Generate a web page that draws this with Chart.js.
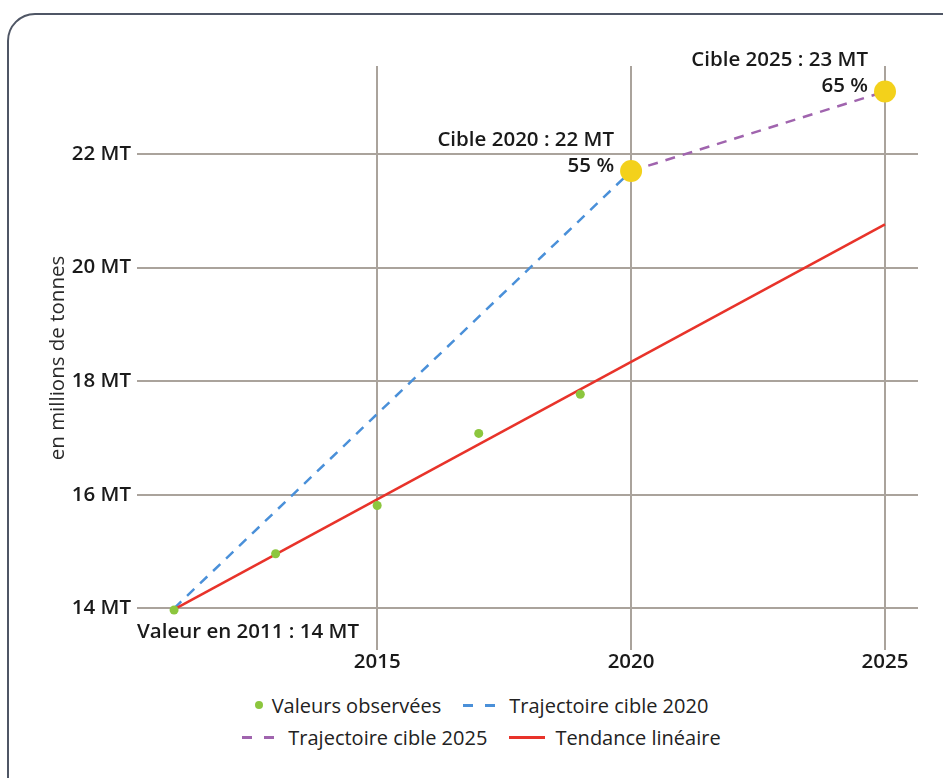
<!DOCTYPE html>
<html lang="fr">
<head>
<meta charset="utf-8">
<title>Trajectoire</title>
<script src="https://cdn.jsdelivr.net/npm/chart.js@4/dist/chart.umd.min.js"></script>
<style>
  html, body { margin: 0; padding: 0; background: #fff; }
  body { width: 943px; height: 778px; position: relative; overflow: hidden; font-family: "Open Sans", sans-serif; }
  .frame { position: absolute; left: 7px; top: 13px; width: 980px; height: 800px; border: 2.5px solid #4f5665; border-radius: 28px; box-sizing: border-box; }
  #chart { position: absolute; left: 0; top: 0; }
  .legend { position: absolute; left: 20px; top: 689px; width: 923px; font-size: 20px; color: #222; }
  .row { display: flex; justify-content: center; align-items: center; height: 32px; }
  .item { display: flex; align-items: center; margin: 0 11px; }
  .dot { width: 8px; height: 8px; border-radius: 50%; margin-right: 9px; }
  .dash { display: flex; width: 32px; justify-content: space-between; margin-right: 14px; }
  .dash span { width: 10px; height: 3px; }
  .solid { width: 36px; height: 3px; margin-right: 10px; }
</style>
</head>
<body>
<div class="frame"></div>
<canvas id="chart" width="943" height="680"></canvas>
<div class="legend">
  <div class="row">
    <div class="item"><span class="dot" style="background:#8cc63e"></span>Valeurs observées</div>
    <div class="item"><span class="dash"><span style="background:#4a90d9"></span><span style="background:#4a90d9"></span></span>Trajectoire cible 2020</div>
  </div>
  <div class="row">
    <div class="item"><span class="dash"><span style="background:#a064ae"></span><span style="background:#a064ae"></span></span>Trajectoire cible 2025</div>
    <div class="item"><span class="solid" style="background:#e8332a"></span>Tendance linéaire</div>
  </div>
</div>
<script>
// valeurs (millions de tonnes)
const obsYears = [2011, 2013, 2015, 2017, 2019];
const obsValues = [13.97, 14.96, 15.81, 17.08, 17.77];

const traj2020Years = [2011, 2020];
const traj2020Values = [14, 21.7];

const traj2025Years = [2020, 2025];
const traj2025Values = [21.7, 23.1];

const trendYears = [2011, 2025];
const trendValues = [13.98, 20.76];

const targetYears = [2020, 2025];
const targetValues = [21.7, 23.1];
const targetLabels = [['Cible 2020 : 22 MT', '55 %'], ['Cible 2025 : 23 MT', '65 %']];
const startLabel = 'Valeur en 2011 : 14 MT';

const xTicks = [2015, 2020, 2025];
const yTicks = [14, 16, 18, 20, 22];

function pts(xs, ys) {
    return xs.map(function (x, i) { return {x: x, y: ys[i]}; });
}

const boldFont = '600 20.5px "Open Sans", sans-serif';

// textes posés à côté des points
const labelsPlugin = {
    id: 'labels',
    afterDatasetsDraw: function (chart) {
        const ctx = chart.ctx;
        const xs = chart.scales.x, ys = chart.scales.y;
        ctx.save();
        ctx.font = boldFont;
        ctx.fillStyle = '#1a1a1a';
        ctx.textBaseline = 'middle';
        ctx.textAlign = 'right';
        targetYears.forEach(function (yr, i) {
            const px = xs.getPixelForValue(yr);
            const py = ys.getPixelForValue(targetValues[i]);
            ctx.fillText(targetLabels[i][0], px - 17, py - 31);
            ctx.fillText(targetLabels[i][1], px - 17, py - 5);
        });
        ctx.textAlign = 'left';
        const sx = xs.getPixelForValue(obsYears[0]);
        const sy = ys.getPixelForValue(obsValues[0]);
        ctx.fillText(startLabel, sx - 37, sy + 22);
        ctx.restore();
    }
};

const ctx = document.getElementById('chart').getContext('2d');
const chart = new Chart(ctx, {
    type: 'scatter',
    data: {
        datasets: [
            {
                label: 'Valeurs observées',
                data: pts(obsYears, obsValues),
                backgroundColor: '#8cc63e',
                borderWidth: 0,
                pointRadius: 4.5,
                order: 1
            },
            {
                label: 'Trajectoire cible 2020',
                type: 'line',
                data: pts(traj2020Years, traj2020Values),
                borderColor: '#4a90d9',
                borderWidth: 2.5,
                borderDash: [10, 8],
                pointRadius: 0,
                order: 4
            },
            {
                label: 'Trajectoire cible 2025',
                type: 'line',
                data: pts(traj2025Years, traj2025Values),
                borderColor: '#a064ae',
                borderWidth: 2.5,
                borderDash: [10, 8],
                pointRadius: 0,
                order: 3
            },
            {
                label: 'Tendance linéaire',
                type: 'line',
                data: pts(trendYears, trendValues),
                borderColor: '#e8332a',
                borderWidth: 2.5,
                pointRadius: 0,
                order: 2
            },
            {
                label: 'Cibles',
                data: pts(targetYears, targetValues),
                backgroundColor: '#f3d11b',
                borderWidth: 0,
                pointRadius: 11,
                order: 0
            }
        ]
    },
    options: {
        responsive: false,
        animation: false,
        layout: {
            padding: {left: 0, right: 25, top: 66, bottom: 0}
        },
        plugins: {
            legend: {display: false},
            tooltip: {enabled: false}
        },
        scales: {
            x: {
                type: 'linear',
                min: 2010.27,
                max: 2025.65,
                afterBuildTicks: function (scale) {
                    scale.ticks = xTicks.map(function (v) { return {value: v}; });
                },
                afterFit: function (scale) { scale.height = 30; },
                ticks: {
                    padding: 0,
                    color: '#1a1a1a',
                    font: {family: '"Open Sans", sans-serif', size: 20.5, weight: '600'},
                    callback: function (v) { return String(v); }
                },
                grid: {color: '#aaa39c', lineWidth: 2, drawTicks: false},
                border: {display: false}
            },
            y: {
                min: 13.266,
                max: 23.55,
                afterBuildTicks: function (scale) {
                    scale.ticks = yTicks.map(function (v) { return {value: v}; });
                },
                afterFit: function (scale) { scale.width = 137; },
                ticks: {
                    padding: 6,
                    color: '#1a1a1a',
                    font: {family: '"Open Sans", sans-serif', size: 20.5, weight: '600'},
                    callback: function (v) { return v + ' MT'; }
                },
                grid: {color: '#aaa39c', lineWidth: 2, drawTicks: false},
                border: {display: false},
                title: {
                    display: true,
                    text: 'en millions de tonnes',
                    color: '#2a2a2a',
                    padding: {top: 46, bottom: 0},
                    font: {family: '"Open Sans", sans-serif', size: 20.5}
                }
            }
        }
    },
    plugins: [labelsPlugin]
});
</script>
</body>
</html>
